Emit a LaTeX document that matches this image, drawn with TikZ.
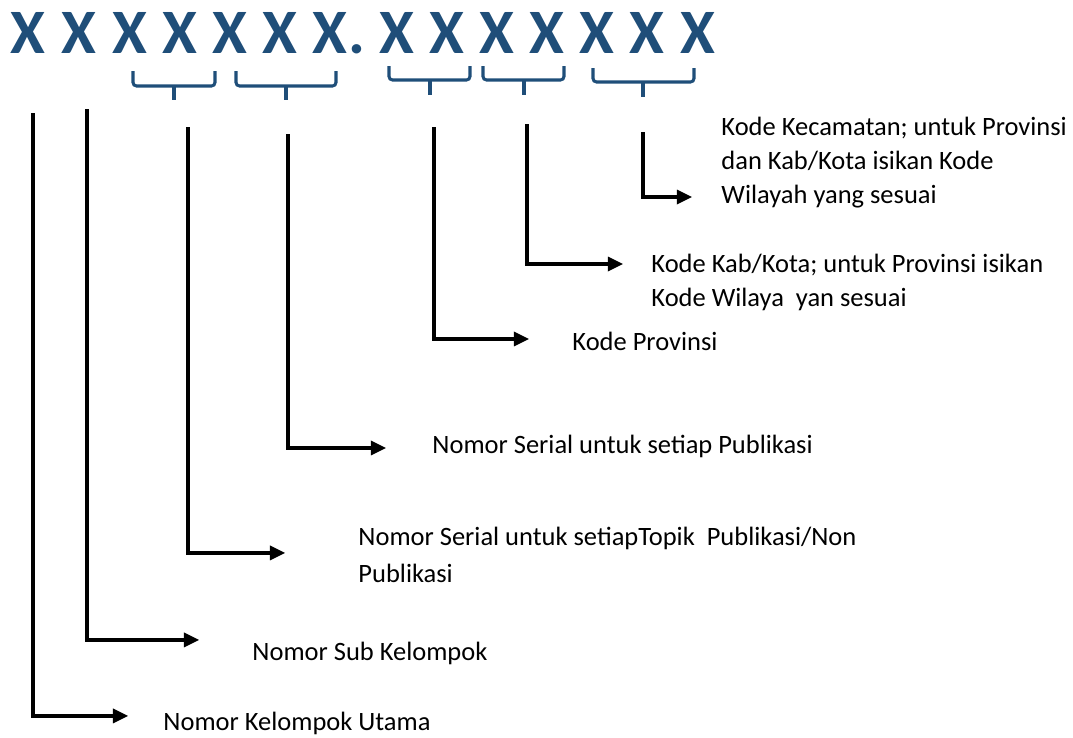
\documentclass[tikz,border=0pt]{standalone}
\usepackage{fontspec}
\setmainfont{Carlito}
\usepackage{xcolor}
\definecolor{xblue}{RGB}{31,78,121}

\begin{document}
\begin{tikzpicture}[scale=0.15]
\tikzstyle{every node}+=[inner sep=0pt]
\tikzstyle{digit}=[anchor=base, text=xblue, font=\fontsize{27}{32}\selectfont\bfseries]
\tikzstyle{brace}=[xblue, line width=1.3pt, rounded corners=1.5pt]
\tikzstyle{conn}=[black, line width=1.35pt, shorten >=2mm]
\tikzstyle{lbl}=[anchor=base west, align=left, font=\fontsize{11.3}{14.4}\selectfont]
\useasboundingbox (0,0) rectangle (107.3,-73.7);
\node [digit] (x1) at (2.8,-5.3) {X};
\node [digit] (x2) at (7.9,-5.3) {X};
\node [digit] (x3) at (13.0,-5.3) {X};
\node [digit] (x4) at (18.0,-5.3) {X};
\node [digit] (x5) at (23.0,-5.3) {X};
\node [digit] (x6) at (28.0,-5.3) {X};
\node [digit] (x7) at (33.0,-5.3) {X};
\node [digit, anchor=base west] (dot) at (x7.base east) {.};
\node [digit] (x8) at (39.7,-5.3) {X};
\node [digit] (x9) at (44.7,-5.3) {X};
\node [digit] (x10) at (49.7,-5.3) {X};
\node [digit] (x11) at (54.7,-5.3) {X};
\node [digit] (x12) at (59.7,-5.3) {X};
\node [digit] (x13) at (64.7,-5.3) {X};
\node [digit] (x14) at (69.8,-5.3) {X};
\draw [brace] (13.3,-7.1) -- (13.3,-8.6) -- (21.5,-8.6) -- (21.5,-7.1);
\draw [brace] (17.4,-8.6) -- (17.4,-10.0);
\draw [brace] (23.6,-7.1) -- (23.6,-8.6) -- (33.6,-8.6) -- (33.6,-7.1);
\draw [brace] (28.6,-8.6) -- (28.6,-10.0);
\draw [brace] (38.9,-6.6) -- (38.9,-8.0) -- (47.0,-8.0) -- (47.0,-6.6);
\draw [brace] (43.0,-8.0) -- (43.0,-9.5);
\draw [brace] (48.3,-6.6) -- (48.3,-8.0) -- (56.4,-8.0) -- (56.4,-6.6);
\draw [brace] (52.4,-8.0) -- (52.4,-9.5);
\draw [brace] (59.3,-6.8) -- (59.3,-8.2) -- (69.4,-8.2) -- (69.4,-6.8);
\draw [brace] (64.3,-8.2) -- (64.3,-9.7);
\node [lbl] (t1) at (16.3,-73.0) {Nomor Kelompok Utama};
\node [lbl] (t2) at (25.2,-66.0) {Nomor Sub Kelompok};
\node [lbl, font=\fontsize{11.3}{15.4}\selectfont] (t3) at (35.8,-58.2) {Nomor Serial untuk setiapTopik~ Publikasi/Non\\Publikasi};
\node [lbl] (t4) at (43.2,-45.3) {Nomor Serial untuk setiap Publikasi};
\node [lbl] (t5) at (57.2,-35.0) {Kode Provinsi};
\node [lbl] (t6) at (65.1,-30.6) {Kode Kab/Kota; untuk Provinsi isikan\\Kode Wilaya~ yan sesuai};
\node [lbl] (t7) at (72.1,-20.3) {Kode Kecamatan; untuk Provinsi\\dan Kab/Kota isikan Kode\\Wilayah yang sesuai};
\coordinate (s1) at (3.3,-11.3);
\coordinate (e1) at (12.8,-71.6);
\coordinate (s2) at (8.7,-10.9);
\coordinate (e2) at (19.9,-64.0);
\coordinate (s3) at (18.8,-12.7);
\coordinate (e3) at (28.5,-55.3);
\coordinate (s4) at (28.8,-13.4);
\coordinate (e4) at (38.6,-44.8);
\coordinate (s5) at (43.4,-12.7);
\coordinate (e5) at (52.9,-33.9);
\coordinate (s6) at (52.7,-12.4);
\coordinate (e6) at (62.3,-26.4);
\coordinate (s7) at (64.3,-13.2);
\coordinate (e7) at (69.2,-19.7);
\draw [conn] (s1) |- (e1);
\fill [black] (e1) -- ++(-1.5,0.75) -- ++(0,-1.5) -- cycle;
\draw [conn] (s2) |- (e2);
\fill [black] (e2) -- ++(-1.5,0.75) -- ++(0,-1.5) -- cycle;
\draw [conn] (s3) |- (e3);
\fill [black] (e3) -- ++(-1.5,0.75) -- ++(0,-1.5) -- cycle;
\draw [conn] (s4) |- (e4);
\fill [black] (e4) -- ++(-1.5,0.75) -- ++(0,-1.5) -- cycle;
\draw [conn] (s5) |- (e5);
\fill [black] (e5) -- ++(-1.5,0.75) -- ++(0,-1.5) -- cycle;
\draw [conn] (s6) |- (e6);
\fill [black] (e6) -- ++(-1.5,0.75) -- ++(0,-1.5) -- cycle;
\draw [conn] (s7) |- (e7);
\fill [black] (e7) -- ++(-1.5,0.75) -- ++(0,-1.5) -- cycle;
\end{tikzpicture}
\end{document}
